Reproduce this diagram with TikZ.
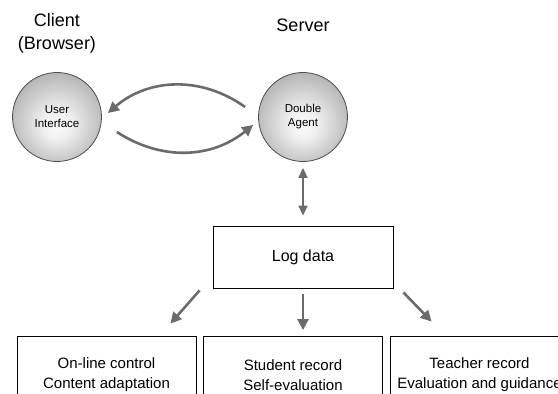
\documentclass[tikz,border=0pt]{standalone}
\usepackage{fontspec}
\setmainfont{Liberation Sans}
\usetikzlibrary{positioning,arrows.meta}
\definecolor{arrowgray}{gray}{0.42}
\pgfdeclareradialshading{ball}{\pgfpoint{0bp}{-5bp}}{color(0bp)=(black!2); color(8bp)=(black!6); color(30bp)=(black!32); color(55bp)=(black!56)}

\begin{document}
\begin{tikzpicture}[x=1pt,y=1pt,
  agent/.style={circle,draw=black!70,line width=0.8pt,shading=ball,minimum size=89pt,inner sep=0pt,align=center,font=\fontsize{11.5}{14}\selectfont},
  store/.style={draw,line width=0.8pt,minimum width=180pt,minimum height=62pt,font=\fontsize{16}{19}\selectfont},
  part/.style={draw,line width=0.8pt,minimum width=179pt,minimum height=77pt,align=center,font=\fontsize{15}{20}\selectfont},
  title/.style={align=center,font=\fontsize{18}{23}\selectfont},
  flow/.style={arrowgray,line width=2.6pt,-{Triangle[length=11pt,width=11pt]}}]
  \useasboundingbox (0,0) rectangle (558,394);

  \node[agent] (ui)  at (57,277)                                        {User\\Interface};
  \node[agent] (da)  [right of=ui,node distance=246pt]                  {Double\\Agent};
  \node[title] (cl)  [above of=ui,node distance=84pt]                   {Client\\(Browser)};
  \node[title] (sv)  [above of=da,node distance=92pt]                   {Server};
  \node[store] (log) [below of=da,node distance=140pt]                  {Log data};
  \node[part]  (sr)  [below of=log,node distance=118pt,xshift=-10pt]    {Student record\\Self-evaluation};
  \node[part]  (oc)  [left of=sr,node distance=186.5pt]                 {On-line control\\Content adaptation};
  \node[part]  (tr)  [right of=sr,node distance=186.5pt]                {Teacher record\\Evaluation and guidance};

  % request / response between browser and server
  \draw[flow] ([xshift=-13pt,yshift=10pt]da.west) to[bend right=38] ([xshift=6pt,yshift=4pt]ui.east);
  \draw[flow] ([xshift=15pt,yshift=-15pt]ui.east) to[bend right=36] ([xshift=-5pt,yshift=-8pt]da.west);

  \draw[arrowgray,line width=1.6pt,{Triangle[length=10pt,width=9pt]}-{Triangle[length=10pt,width=9pt]},
        shorten <=6pt,shorten >=10pt] (da.south) -- (log.north);

  \draw[flow] ([xshift=-13pt,yshift=-2pt]log.south west) -- ([xshift=-26pt,yshift=12.5pt]oc.north east);
  \draw[flow,shorten <=6pt,shorten >=6pt] (log.south) -- (log.south |- sr.north);
  \draw[flow] ([xshift=10pt,yshift=-4pt]log.south east) -- ([xshift=42pt,yshift=14.5pt]tr.north west);
\end{tikzpicture}
\end{document}
